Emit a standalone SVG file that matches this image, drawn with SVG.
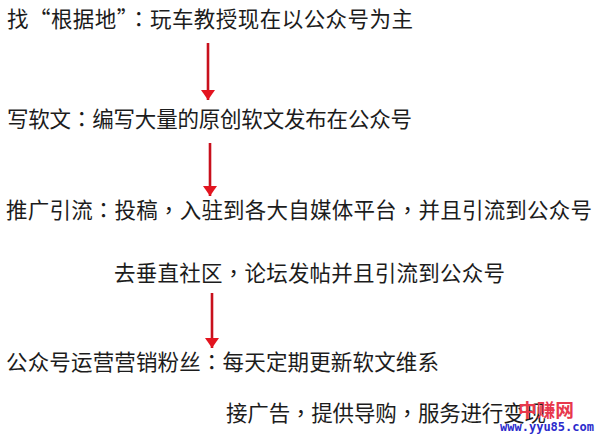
<svg xmlns="http://www.w3.org/2000/svg" width="600" height="437" viewBox="0 0 600 437">
<defs>
<style>
.t{font-family:"Noto Sans CJK SC","Noto Sans",sans-serif;font-size:21.5px;fill:#1c1c1c;}
.p{font-family:"Noto Sans CJK TC","Noto Sans CJK SC",sans-serif;}
.c{stroke:#c8101c;stroke-width:2.6;fill:none;}
.wm1{font-family:"Noto Sans CJK SC",sans-serif;font-size:18px;font-weight:bold;fill:#e8384c;}
.wm2{font-family:"DejaVu Sans Mono","Liberation Mono",monospace;font-size:12.5px;font-weight:bold;fill:#2b2bcc;}
</style>
<marker id="ah" viewBox="0 0 10 14" refX="10" refY="7" markerWidth="10" markerHeight="14" markerUnits="userSpaceOnUse" orient="auto">
<path d="M0,0 L10,7 L0,14 Z" fill="#e3141f"/>
</marker>
</defs>
<rect width="600" height="437" fill="#ffffff"/>
<g id="connectors">
<line class="c" x1="208" y1="43" x2="208" y2="100" marker-end="url(#ah)"/>
<line class="c" x1="210" y1="143" x2="210" y2="196" marker-end="url(#ah)"/>
<line class="c" x1="212" y1="293" x2="212" y2="348" marker-end="url(#ah)"/>
</g>
<g id="node1"><text class="t" x="7" y="27" textLength="406" lengthAdjust="spacing">找“根据地”<tspan class="p">：</tspan>玩车教授现在以公众号为主</text></g>
<g id="node2"><text class="t" x="7" y="127" textLength="405" lengthAdjust="spacing">写软文<tspan class="p">：</tspan>编写大量的原创软文发布在公众号</text></g>
<g id="node3">
<text class="t" x="6" y="218" textLength="586" lengthAdjust="spacing">推广引流<tspan class="p">：</tspan>投稿<tspan class="p">，</tspan>入驻到各大自媒体平台<tspan class="p">，</tspan>并且引流到公众号</text>
<text class="t" x="114" y="281" textLength="391" lengthAdjust="spacing">去垂直社区<tspan class="p">，</tspan>论坛发帖并且引流到公众号</text>
</g>
<g id="node4">
<text class="t" x="6" y="370" textLength="433" lengthAdjust="spacing">公众号运营营销粉丝<tspan class="p">：</tspan>每天定期更新软文维系</text>
<text class="t" x="226" y="421" textLength="320" lengthAdjust="spacing">接广告<tspan class="p">，</tspan>提供导购<tspan class="p">，</tspan>服务进行变现</text>
</g>
<g id="watermark">
<text class="wm1" x="518" y="417" textLength="56" lengthAdjust="spacingAndGlyphs">中赚网</text>
<text class="wm2" x="500" y="431" textLength="94" lengthAdjust="spacingAndGlyphs">www.yyu85.com</text>
</g>
</svg>
